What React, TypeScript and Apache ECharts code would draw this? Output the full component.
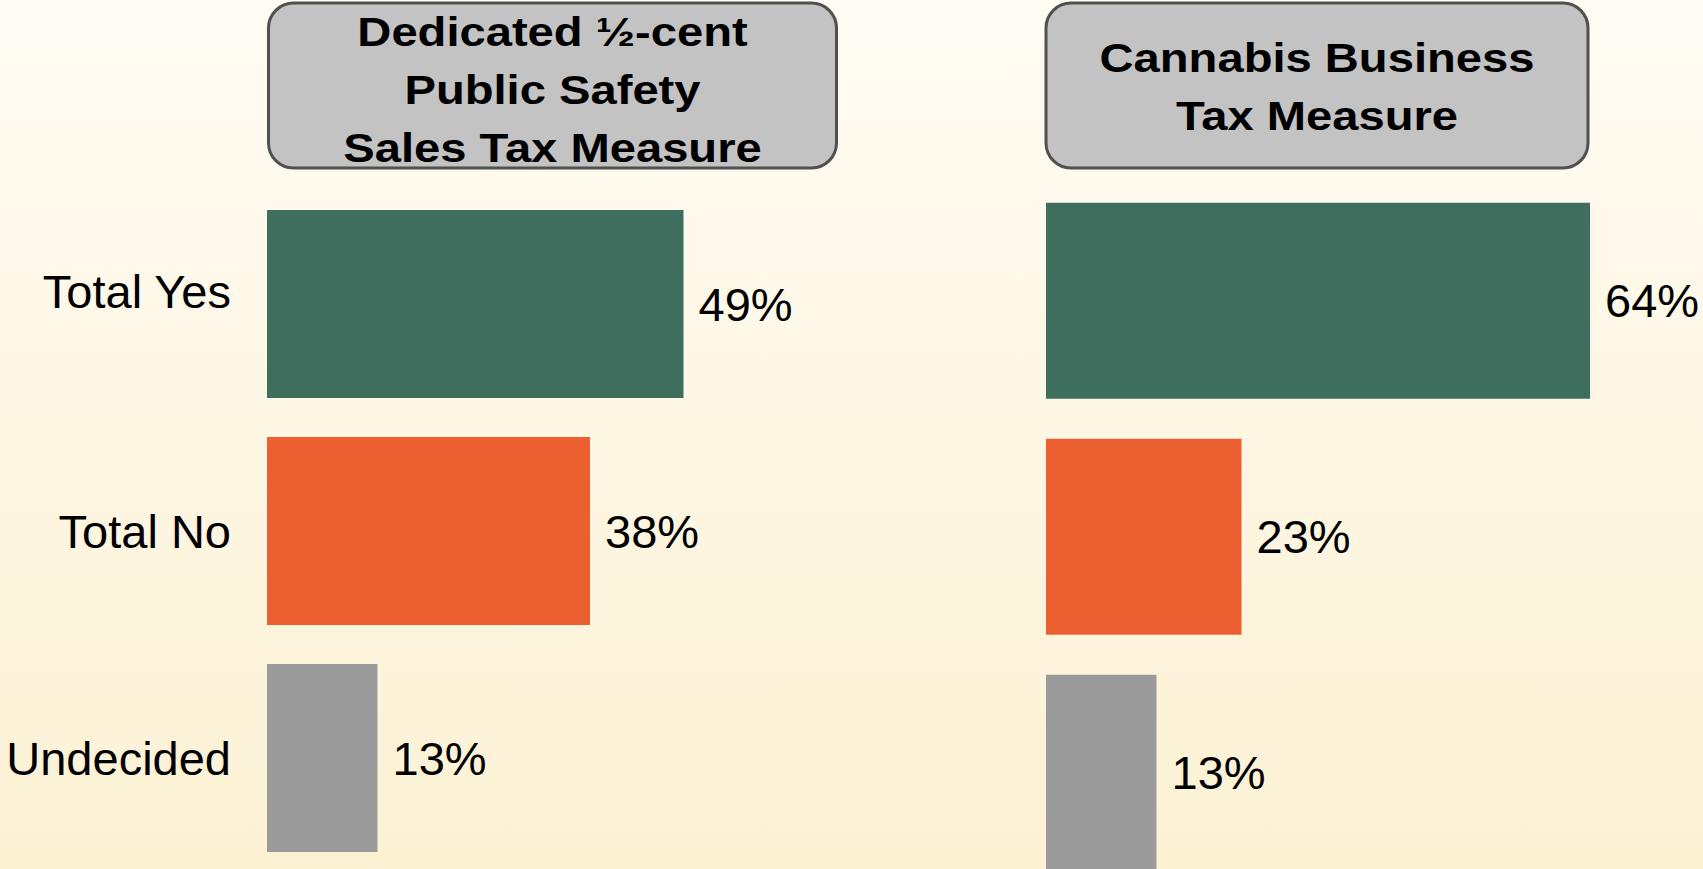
import React, { useEffect, useRef } from "react";
import * as echarts from "echarts";

const categories = ["Total Yes", "Total No", "Undecided"];
const salesTaxValues = [49, 38, 13];
const cannabisValues = [64, 23, 13];
const barColors = ["#3e6e5e", "#eb5f31", "#9b9b9b"];
const titleLeft = "Dedicated ½-cent\nPublic Safety\nSales Tax Measure";
const titleRight = "Cannabis Business\nTax Measure";

const FONT = '"Liberation Sans", Arial, Helvetica, sans-serif';

export default function App() {
  const ref = useRef<HTMLDivElement>(null);

  useEffect(() => {
    if (!ref.current) return;
    const chart = echarts.init(ref.current, null, { renderer: "svg" });

    const makeData = (vals: number[]) =>
      vals.map((v, i) => ({ value: v, itemStyle: { color: barColors[i] } }));

    const valueLabel = {
      show: true,
      position: "right",
      distance: 15,
      formatter: "{c}%",
      fontSize: 47,
      fontFamily: FONT,
      color: "#000",
    };

    const titleBox = (x: number, w: number, cy: number, text: string) => ({
      type: "group",
      children: [
        {
          type: "rect",
          shape: { x, y: 3, width: w, height: 165, r: 25 },
          style: { fill: "#c3c3c3", stroke: "#505050", lineWidth: 3 },
          z: 10,
        },
        {
          type: "text",
          x: x + w / 2,
          y: cy,
          scaleX: 1.15,
          scaleY: 1,
          z: 11,
          style: {
            text,
            fill: "#000",
            font: `bold 41px ${FONT}`,
            textAlign: "center",
            textVerticalAlign: "middle",
            lineHeight: 58,
          },
        },
      ],
    });

    const labelRich = {
      up: {
        fontSize: 47,
        fontFamily: FONT,
        color: "#000",
        padding: [0, 0, 26, 0],
      },
      n: {
        fontSize: 47,
        fontFamily: FONT,
        color: "#000",
      },
    };

    chart.setOption({
      animation: false,
      backgroundColor: "transparent",
      grid: [
        { left: 267, top: 190.5, width: 850, height: 681, containLabel: false },
        { left: 1046, top: 182.7, width: 646, height: 708, containLabel: false },
      ],
      xAxis: [
        { type: "value", min: 0, max: 100, show: false, gridIndex: 0 },
        { type: "value", min: 0, max: 76, show: false, gridIndex: 1 },
      ],
      yAxis: [
        {
          type: "category",
          gridIndex: 0,
          inverse: true,
          data: categories,
          axisLine: { show: false },
          axisTick: { show: false },
          splitLine: { show: false },
          axisLabel: {
            margin: 36,
            fontSize: 47,
            fontFamily: FONT,
            color: "#000",
            formatter: (v: string, i: number) =>
              i === 0 ? `{up|${v}}` : `{n|${v}}`,
            rich: labelRich,
          },
        },
        {
          type: "category",
          gridIndex: 1,
          inverse: true,
          data: categories,
          axisLine: { show: false },
          axisTick: { show: false },
          splitLine: { show: false },
          axisLabel: { show: false },
        },
      ],
      series: [
        {
          type: "bar",
          xAxisIndex: 0,
          yAxisIndex: 0,
          barWidth: 188,
          data: makeData(salesTaxValues),
          label: valueLabel,
        },
        {
          type: "bar",
          xAxisIndex: 1,
          yAxisIndex: 1,
          barWidth: 196,
          data: makeData(cannabisValues),
          label: valueLabel,
        },
      ],
      graphic: [
        titleBox(268.5, 568, 89.5, titleLeft),
        titleBox(1046, 542, 87, titleRight),
      ],
    });

    return () => chart.dispose();
  }, []);

  return (
    <div
      style={{
        position: "absolute",
        left: 0,
        top: 0,
        width: 1703,
        height: 869,
        overflow: "hidden",
        background: "linear-gradient(to bottom, #fffcf4 0%, #fcf1d3 100%)",
      }}
    >
      <div ref={ref} style={{ width: 1703, height: 900 }} />
    </div>
  );
}
